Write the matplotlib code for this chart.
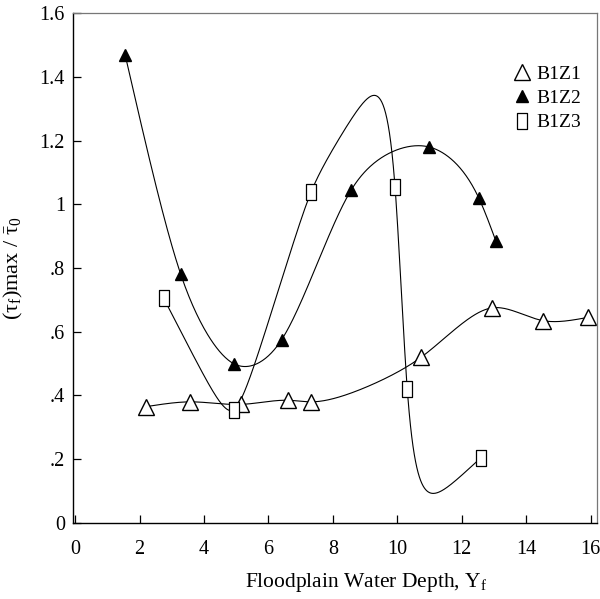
import numpy as np
import matplotlib
matplotlib.use('Agg')
import matplotlib.pyplot as plt

# data
z1_x = [2.20, 3.56, 5.14, 6.62, 7.33, 10.74, 12.94, 14.52, 15.91]
z1_y = [0.365, 0.38, 0.372, 0.385, 0.38, 0.52, 0.675, 0.635, 0.645]

z2_x = [1.55, 3.28, 4.92, 6.41, 8.57, 10.99, 12.53, 13.06]
z2_y = [1.47, 0.78, 0.50, 0.575, 1.045, 1.18, 1.02, 0.885]

z3_x = [2.75, 4.92, 7.33, 9.93, 10.31, 12.60]
z3_y = [0.705, 0.355, 1.04, 1.055, 0.42, 0.205]

x_ticks = [0, 2, 4, 6, 8, 10, 12, 14, 16]
y_ticks = [0, 0.2, 0.4, 0.6, 0.8, 1.0, 1.2, 1.4, 1.6]
y_labels = ['0', '.2', '.4', '.6', '.8', '1', '1.2', '1.4', '1.6']


def tension_spline(x, y, sigma, num=500):
    # natural spline under tension (no scipy needed)
    x = np.asarray(x, float)
    y = np.asarray(y, float)
    n = len(x)
    h = np.diff(x)
    sh = np.sinh(sigma * h)
    a = 1 / h - sigma / sh
    b = sigma * np.cosh(sigma * h) / sh - 1 / h
    A = np.zeros((n, n))
    r = np.zeros(n)
    A[0, 0] = A[-1, -1] = 1
    for i in range(1, n - 1):
        A[i, i - 1] = a[i - 1]
        A[i, i] = b[i - 1] + b[i]
        A[i, i + 1] = a[i]
        r[i] = sigma ** 2 * ((y[i + 1] - y[i]) / h[i] - (y[i] - y[i - 1]) / h[i - 1])
    z = np.linalg.solve(A, r)
    xs = np.linspace(x[0], x[-1], num)
    i = np.clip(np.searchsorted(x, xs) - 1, 0, n - 2)
    s2 = sigma ** 2
    ys = ((z[i] * np.sinh(sigma * (x[i + 1] - xs)) + z[i + 1] * np.sinh(sigma * (xs - x[i]))) / (s2 * sh[i])
          + (y[i] - z[i] / s2) * (x[i + 1] - xs) / h[i]
          + (y[i + 1] - z[i + 1] / s2) * (xs - x[i]) / h[i])
    return xs, ys


plt.rcParams['font.family'] = ['Liberation Serif', 'DejaVu Serif']
plt.rcParams['mathtext.fontset'] = 'custom'
plt.rcParams['mathtext.rm'] = 'Liberation Serif'
plt.rcParams['mathtext.it'] = 'Liberation Serif'
plt.rcParams['mathtext.bf'] = 'Liberation Serif:bold'

fig = plt.figure(figsize=(6, 5.99), dpi=100)
ax = fig.add_axes([0.122, 0.127, 0.873, 0.851])

# smooth curves, B1Z3 needs more tension to keep its overshoot down
for xx, yy, sig in [(z1_x, z1_y, 1.2), (z2_x, z2_y, 1.2), (z3_x, z3_y, 3.4)]:
    sx, sy = tension_spline(xx, yy, sig)
    ax.plot(sx, sy, color='black', lw=0.8)

rect = [(-0.33, -0.5), (0.33, -0.5), (0.33, 0.5), (-0.33, 0.5), (-0.33, -0.5)]
ax.plot(z1_x, z1_y, linestyle='none', marker='^', ms=11, mfc='white',
        mec='black', mew=1.0, label='B1Z1')
ax.plot(z2_x, z2_y, linestyle='none', marker='^', ms=9, mfc='black',
        mec='black', label='B1Z2')
ax.plot(z3_x, z3_y, linestyle='none', marker=rect, ms=11, mfc='white',
        mec='black', mew=0.9, label='B1Z3')

ax.set_xlim(-0.06, 16.2)
ax.set_ylim(0, 1.6)
ax.set_xticks(x_ticks)
ax.set_yticks(y_ticks)
ax.set_yticklabels(y_labels)
ax.tick_params(direction='in', labelsize=14.5, length=6, width=0.9)
ax.tick_params(axis='x', pad=12)
ax.tick_params(axis='y', pad=6)

for s in ['top', 'right']:
    ax.spines[s].set_color('#777777')
    ax.spines[s].set_linewidth(0.9)
for s in ['left', 'bottom']:
    ax.spines[s].set_linewidth(1.0)

ax.set_xlabel(r'Floodplain Water Depth, Y$_\mathrm{f}$', fontsize=15.5)
ax.xaxis.set_label_coords(0.56, -0.095)
ax.set_ylabel(r'($\tau_\mathrm{f}$)max / $\bar{\tau}_0$', fontsize=16)
ax.yaxis.set_label_coords(-0.092, 0.5)

ax.legend(loc='upper right', bbox_to_anchor=(0.995, 0.925), frameon=False,
          fontsize=14, handlelength=0.6, handletextpad=0.4, labelspacing=0.35,
          borderpad=0.2)

fig.savefig('out.png', dpi=100)
